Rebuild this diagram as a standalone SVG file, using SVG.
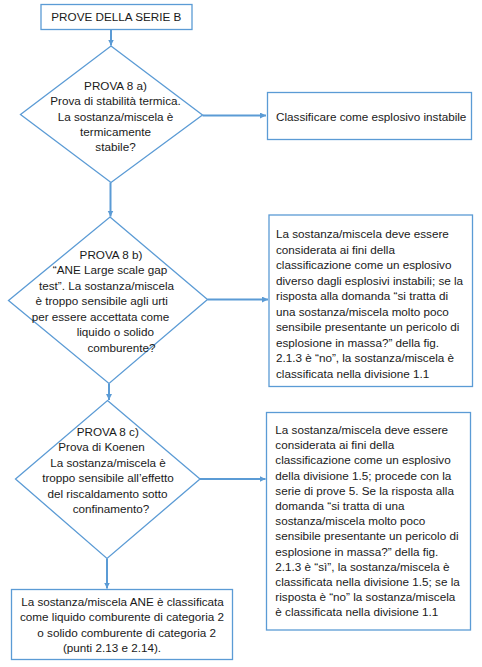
<svg xmlns="http://www.w3.org/2000/svg" width="482" height="667" viewBox="0 0 482 667">
<defs>
<marker id="ah" markerUnits="userSpaceOnUse" markerWidth="7" markerHeight="7" refX="6" refY="3" orient="auto">
<path d="M0,0 L6,3 L0,6 z" fill="#5B9BD5"/>
</marker>
<style>
.box{fill:#fff;stroke:#5B9BD5;stroke-width:1.3}
.con{fill:none;stroke:#5B9BD5;stroke-width:2;marker-end:url(#ah)}
text{font-family:"Liberation Sans",Arial,sans-serif;font-size:11.7px;fill:#1a1a1a}
.c{text-anchor:middle}
</style>
</defs>
<rect width="482" height="667" fill="#fff"/>
<g id="connectors">
<line class="con" x1="111" y1="29.5" x2="111" y2="45.5"/>
<line class="con" x1="110.5" y1="182.5" x2="110.5" y2="216.5"/>
<line class="con" x1="109" y1="383.5" x2="109" y2="400"/>
<line class="con" x1="107" y1="558.5" x2="107" y2="588.5"/>
<line class="con" x1="202.5" y1="115.5" x2="266" y2="115.5"/>
<line class="con" x1="207.5" y1="299.5" x2="268" y2="299.5"/>
<line class="con" x1="200" y1="479" x2="265.5" y2="479"/>
</g>
<g id="start">
<rect class="box" x="41" y="4.5" width="151" height="25"/>
<text class="c" x="116.3" y="21">PROVE DELLA SERIE B</text>
</g>
<g id="test8a">
<polygon class="box" points="111,46 202.5,115 111,182.5 20.5,114.5"/>
<text class="c" x="115.5" y="90">PROVA 8 a)</text>
<text class="c" x="115.5" y="105">Prova di stabilità termica.</text>
<text class="c" x="115.5" y="120.5">La sostanza/miscela è</text>
<text class="c" x="115.5" y="135.5">termicamente</text>
<text class="c" x="115.5" y="150.5">stabile?</text>
</g>
<g id="unstable">
<rect class="box" x="267.5" y="92.5" width="204" height="47"/>
<text x="276" y="120.5">Classificare come esplosivo instabile</text>
</g>
<g id="test8b">
<polygon class="box" points="110,217 207.5,299.5 109,383.5 8.5,300.5"/>
<text class="c" x="111" y="258.5">PROVA 8 b)</text>
<text class="c" x="110" y="274">“ANE Large scale gap</text>
<text class="c" x="106.5" y="289.5">test”. La sostanza/miscela</text>
<text class="c" x="101.7" y="305">è troppo sensibile agli urti</text>
<text class="c" x="100.5" y="320.5">per essere accettata come</text>
<text class="c" x="115.3" y="336">liquido o solido</text>
<text class="c" x="121.5" y="351.5">comburente?</text>
</g>
<g id="div11">
<rect class="box" x="269" y="215" width="203.5" height="171.5"/>
<text x="276" y="238">La sostanza/miscela deve essere</text>
<text x="276" y="253.5">considerata ai fini della</text>
<text x="276" y="269">classificazione come un esplosivo</text>
<text x="276" y="284.5">diverso dagli esplosivi instabili; se la</text>
<text x="276" y="300">risposta alla domanda “si tratta di</text>
<text x="276" y="315.5">una sostanza/miscela molto poco</text>
<text x="276" y="331">sensibile presentante un pericolo di</text>
<text x="276" y="346.5">esplosione in massa?” della fig.</text>
<text x="276" y="362">2.1.3 è “no”, la sostanza/miscela è</text>
<text x="276" y="377.5">classificata nella divisione 1.1</text>
</g>
<g id="test8c">
<polygon class="box" points="107.5,400.5 200,479 107,558.5 15.5,479"/>
<text class="c" x="107.8" y="435.5">PROVA 8 c)</text>
<text class="c" x="101.5" y="451">Prova di Koenen</text>
<text class="c" x="108" y="466.5">La sostanza/miscela è</text>
<text class="c" x="108" y="482">troppo sensibile all’effetto</text>
<text class="c" x="107.5" y="497.5">del riscaldamento sotto</text>
<text class="c" x="111" y="513">confinamento?</text>
</g>
<g id="div15">
<rect class="box" x="266.5" y="412.5" width="204" height="217.5"/>
<text x="275.3" y="434">La sostanza/miscela deve essere</text>
<text x="275.3" y="449.2">considerata ai fini della</text>
<text x="275.3" y="464.4">classificazione come un esplosivo</text>
<text x="275.3" y="479.6">della divisione 1.5; procede con la</text>
<text x="275.3" y="494.8">serie di prove 5. Se la risposta alla</text>
<text x="275.3" y="510">domanda “si tratta di una</text>
<text x="275.3" y="525.2">sostanza/miscela molto poco</text>
<text x="275.3" y="540.4">sensibile presentante un pericolo di</text>
<text x="275.3" y="555.6">esplosione in massa?” della fig.</text>
<text x="275.3" y="570.8">2.1.3 è “sì”, la sostanza/miscela è</text>
<text x="275.3" y="586">classificata nella divisione 1.5; se la</text>
<text x="275.3" y="601.2">risposta è “no” la sostanza/miscela</text>
<text x="275.3" y="616.4">è classificata nella divisione 1.1</text>
</g>
<g id="oxidizer">
<rect class="box" x="11.5" y="589.5" width="221" height="70"/>
<text class="c" x="122.5" y="605.5">La sostanza/miscela ANE è classificata</text>
<text class="c" x="122" y="621">come liquido comburente di categoria 2</text>
<text class="c" x="126.7" y="636.5">o solido comburente di categoria 2</text>
<text class="c" x="112" y="652">(punti 2.13 e 2.14).</text>
</g>
</svg>
